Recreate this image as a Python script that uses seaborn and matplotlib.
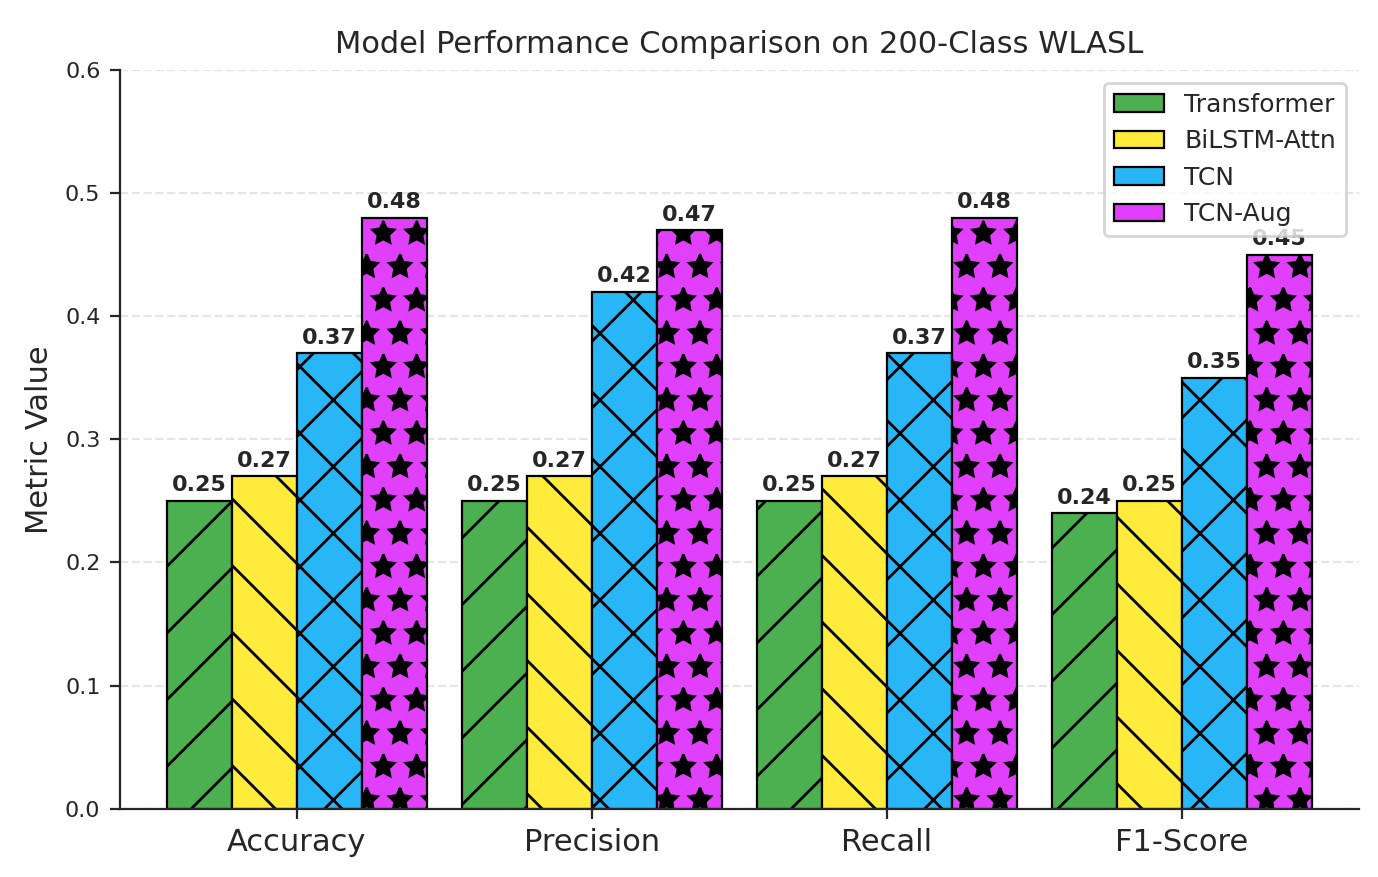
import matplotlib
matplotlib.use("Agg")
import matplotlib.pyplot as plt
import seaborn as sns
import pandas as pd

metrics = ["Accuracy", "Precision", "Recall", "F1-Score"]
models = ["Transformer", "BiLSTM-Attn", "TCN", "TCN-Aug"]
transformer = [0.25, 0.25, 0.25, 0.24]
bilstm = [0.27, 0.27, 0.27, 0.25]
tcn = [0.37, 0.42, 0.37, 0.35]
tcn_aug = [0.48, 0.47, 0.48, 0.45]

colors = ["#4CAF50", "#FFEB3B", "#29B6F6", "#E040FB"]
hatches = ["/", "\\", "x", "*"]

rows = []
for m, vals in zip(models, [transformer, bilstm, tcn, tcn_aug]):
    for met, v in zip(metrics, vals):
        rows.append({"Metric": met, "Model": m, "Value": v})
df = pd.DataFrame(rows)

sns.set_style("ticks")
plt.rcParams["hatch.linewidth"] = 1.0
fig, ax = plt.subplots(figsize=(6.89, 4.385), dpi=200)
sns.barplot(data=df, x="Metric", y="Value", hue="Model", palette=colors,
            width=0.88, edgecolor="black", linewidth=0.8, ax=ax, saturation=1)

for i, cont in enumerate(ax.containers):
    for bar in cont:
        bar.set_hatch(hatches[i])
        bar.set_edgecolor("black")
    ax.bar_label(cont, fmt="%.2f", padding=2, fontsize=8, fontweight="bold")

ax.set_ylim(0, 0.6)
ax.set_xlim(-0.6, 3.6)
ax.set_xlabel("")
ax.set_ylabel("Metric Value", fontsize=11)
ax.set_title("Model Performance Comparison on 200-Class WLASL", fontsize=11)
ax.tick_params(axis="x", labelsize=11)
ax.tick_params(axis="y", labelsize=8)
ax.yaxis.grid(True, linestyle="--", alpha=0.5)
ax.set_axisbelow(True)
sns.despine(ax=ax)
ax.legend(loc="upper right", fontsize=9, title=None)
fig.subplots_adjust(left=0.087, right=0.986, top=0.92, bottom=0.078)
fig.savefig("out.png", dpi=200)
